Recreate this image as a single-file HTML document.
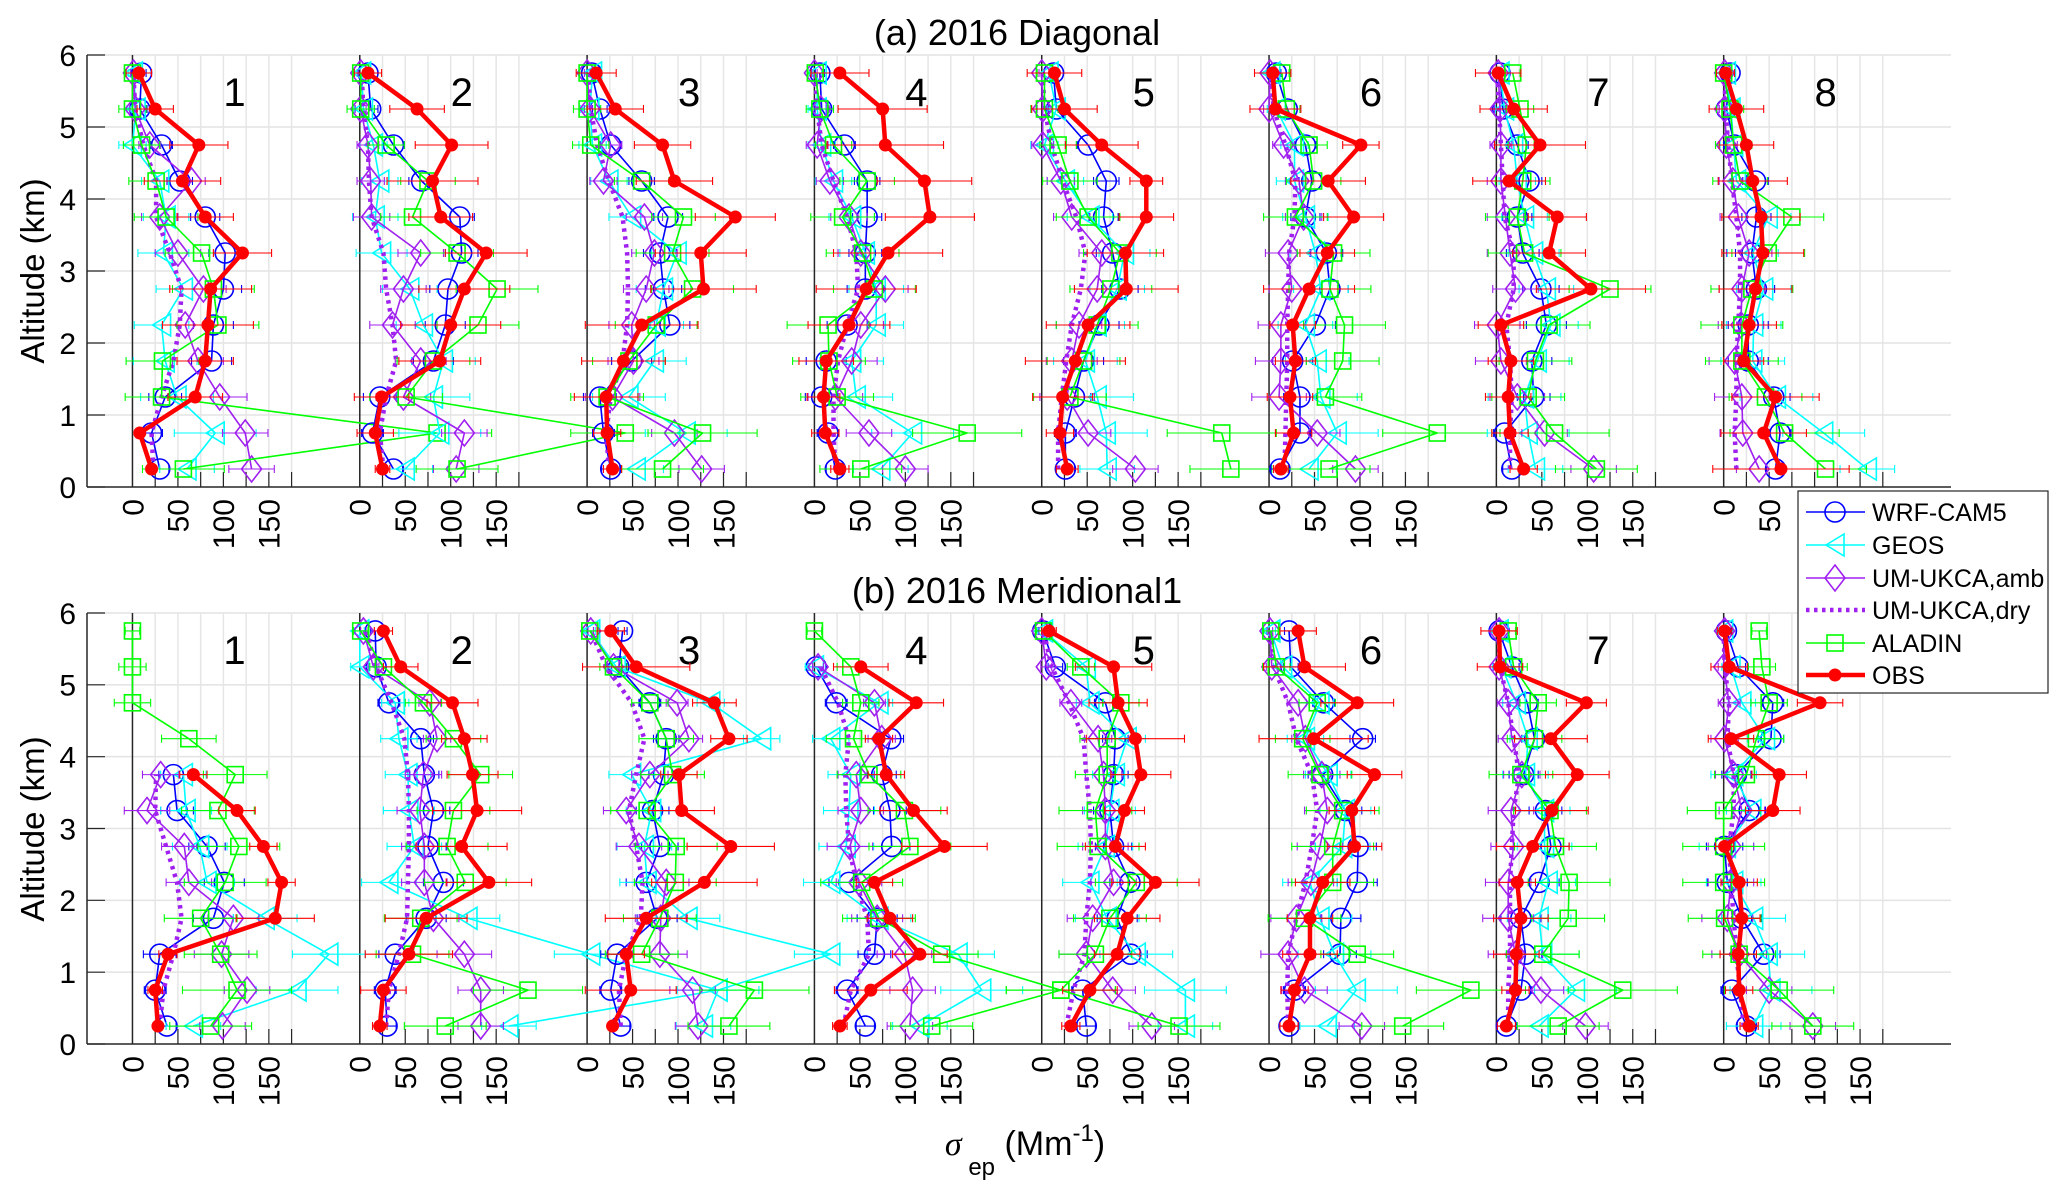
<!DOCTYPE html>
<html><head><meta charset="utf-8"><title>Extinction profiles</title>
<style>
html,body{margin:0;padding:0;background:#fff;}
svg{display:block;font-family:"Liberation Sans",Arial,sans-serif;}
</style></head>
<body>
<svg id="chart" xmlns="http://www.w3.org/2000/svg" width="2067" height="1197" viewBox="0 0 2067 1197">
<rect x="0" y="0" width="2067" height="1197" fill="#fff"/>
<defs>
<clipPath id="clipTop"><rect x="87" y="50" width="1864" height="440"/></clipPath>
<clipPath id="clipBot"><rect x="87" y="608" width="1864" height="440"/></clipPath>
</defs>
<text x="1017" y="45" font-size="36" text-anchor="middle" fill="#000">(a) 2016 Diagonal</text>
<text x="1017" y="603" font-size="36" text-anchor="middle" fill="#000">(b) 2016 Meridional1</text>
<text transform="translate(44,271) rotate(-90)" font-size="33" text-anchor="middle" fill="#000">Altitude (km)</text>
<text transform="translate(44,829) rotate(-90)" font-size="33" text-anchor="middle" fill="#000">Altitude (km)</text>
<text x="1025" y="1155" font-size="34" text-anchor="middle" fill="#000"><tspan font-style="italic" font-family="'Liberation Serif',serif">σ</tspan><tspan font-size="24" dy="20"> ep</tspan><tspan dy="-20"> (Mm</tspan><tspan font-size="24" dy="-14">-1</tspan><tspan dy="14">)</tspan></text>
<g id="layer"></g>
</svg>
<script>
// ---------- data (altitude levels low -> high) ----------
const levels = [0.25,0.75,1.25,1.75,2.25,2.75,3.25,3.75,4.25,4.75,5.25,5.75];
const panelLabels = ['1','2','3','4','5','6','7','8'];
const xTickLabels = [0,50,100,150];
const yTickLabels = [0,1,2,3,4,5,6];

const diagOBS = [
[21,8,69,80,83,86,121,80,55,73,25,7],
[25,17,24,88,100,115,139,89,80,101,63,9],
[28,22,21,40,60,128,125,163,96,83,31,10],
[28,12,10,13,38,57,81,127,121,78,75,28],
[28,20,23,37,51,93,92,115,115,66,25,14],
[13,27,23,29,26,44,64,93,65,101,7,4],
[30,15,13,16,5,104,58,67,14,48,19,2],
[63,44,57,22,28,35,43,41,32,25,14,2]];
const diagOBSerr = [
[5,5,30,31,50,45,32,31,42,32,20,14],
[8,20,30,45,55,50,45,35,50,40,30,15],
[10,15,35,46,62,58,50,44,42,31,31,22],
[10,15,18,30,45,55,60,49,52,64,49,32],
[12,15,33,55,46,57,42,30,18,40,36,30],
[8,20,25,22,25,50,30,33,41,20,28,20],
[15,20,25,25,25,60,40,32,40,50,37,25],
[75,47,48,22,30,40,45,43,38,30,30,10]];
const diagWRF = [
[30,21,36,87,89,100,102,80,52,32,8,10],
[37,14,22,81,94,97,112,110,68,37,12,9],
[26,18,14,49,91,84,80,89,60,26,14,5],
[23,15,8,13,36,56,56,58,58,33,8,6],
[26,26,36,46,63,86,78,68,71,51,16,13],
[12,34,34,26,51,67,63,40,47,40,20,8],
[17,9,41,39,55,49,29,23,36,23,7,4],
[57,62,55,27,27,36,31,36,35,12,3,7]];
const diagGEOS = [
[60,91,49,36,32,56,34,37,30,0,4,1],
[50,88,81,92,70,55,24,17,22,15,4,2],
[54,109,46,74,76,84,99,49,24,6,3,6],
[73,108,46,41,68,68,56,41,21,8,3,3],
[72,71,61,48,61,83,91,53,26,3,16,8],
[44,75,57,53,40,57,51,40,28,28,8,2],
[43,35,31,45,60,55,41,31,23,19,9,4],
[158,110,58,32,33,44,32,49,14,11,8,3]];
const diagUMamb = [
[131,124,96,72,58,78,50,30,65,19,3,1],
[106,115,48,67,36,48,67,13,12,9,1,1],
[126,96,28,51,49,65,74,63,18,26,3,0],
[100,60,23,41,51,78,51,38,17,3,7,0],
[103,51,28,33,41,61,66,33,21,1,1,0],
[95,53,11,13,13,25,21,38,33,16,0,1],
[107,53,23,5,1,21,15,10,5,5,4,2],
[39,21,20,12,19,20,28,16,10,3,1,1]];
const diagUMdry = [
[23,21,32,45,52,54,41,26,26,12,3,1],
[26,22,29,40,36,29,26,13,10,9,4,2],
[24,21,26,39,44,45,44,39,24,11,4,1],
[23,21,21,26,36,48,46,36,21,8,3,1],
[18,18,22,27,33,43,48,38,23,11,3,1],
[17,18,19,20,20,21,22,28,29,18,5,2],
[15,15,17,15,11,19,19,9,7,5,3,1],
[14,12,14,14,16,18,18,14,9,5,2,1]];
const diagALADIN = [
[56,335,32,33,94,89,76,37,26,10,0,0],
[107,292,51,81,130,151,107,58,75,29,1,1],
[83,127,22,46,76,116,94,106,60,4,0,0],
[51,168,25,16,15,66,53,31,58,21,6,1],
[208,198,31,46,61,76,86,51,31,18,3,3],
[66,185,62,81,83,67,71,29,49,44,19,14],
[110,64,35,43,58,125,31,23,29,33,26,18],
[112,67,46,20,20,31,49,75,18,11,7,0]];

const meriOBS = [
[28,25,39,157,164,144,115,67,null,null,null,null],
[22,26,54,73,142,112,129,124,115,102,45,26],
[28,48,43,65,129,158,104,101,156,140,54,26],
[28,62,116,83,66,143,109,79,71,112,51,null],
[32,53,83,94,125,81,91,109,103,84,79,8],
[22,28,45,45,59,94,91,116,49,97,39,32],
[11,21,22,27,23,40,61,89,60,99,4,3],
[28,17,16,20,17,1,54,61,8,106,6,1]];
const meriOBSerr = [
[5,8,10,43,15,15,20,15,0,0,0,0],
[8,25,48,45,47,50,49,28,25,28,19,10],
[5,50,20,45,58,48,36,20,20,24,59,15],
[8,40,30,25,20,47,37,20,15,30,30,0],
[10,30,25,36,48,33,22,33,54,32,42,8],
[10,15,30,25,30,30,25,30,60,40,45,20],
[10,15,25,30,20,40,40,35,40,22,25,20],
[10,15,20,20,20,10,30,30,25,25,20,8]];
const meriWRF = [
[38,25,30,89,101,82,49,45,null,null,null,null],
[30,28,39,73,92,75,81,71,67,32,18,17],
[37,26,33,77,65,80,72,84,87,69,35,39],
[56,36,66,69,38,85,83,74,84,24,2,null],
[49,45,98,83,97,79,75,79,81,70,15,1],
[22,28,78,79,97,98,84,59,103,60,24,22],
[11,27,32,27,47,60,54,30,42,34,17,3],
[25,9,44,20,4,1,28,14,52,54,16,3]];
const meriGEOS = [
[67,181,216,146,82,74,59,56,null,null,null,null],
[164,394,254,119,32,60,54,53,43,39,0,0],
[128,144,268,111,66,63,71,49,192,136,32,4],
[116,184,158,71,18,35,38,40,18,71,0,null],
[158,158,104,72,53,70,75,81,94,53,49,2],
[64,96,72,56,45,81,84,65,40,56,15,2],
[47,87,51,47,57,53,53,32,35,22,6,3],
[33,52,49,33,11,3,31,11,46,20,8,0]];
const meriUMamb = [
[99,126,98,111,62,57,16,31,null,null,null,null],
[133,133,115,81,71,71,66,70,85,77,15,4],
[122,116,80,81,87,57,43,69,112,99,29,4],
[105,108,99,69,49,39,51,46,74,66,4,null],
[121,78,49,56,79,70,70,68,62,32,5,0],
[102,39,21,30,46,56,64,58,40,32,3,1],
[98,49,21,13,13,19,16,28,17,13,3,3],
[98,50,17,4,8,8,20,11,1,6,0,1]];
const meriUMdry = [
[30,34,45,54,49,37,25,26,null,null,null,null],
[29,32,43,52,53,54,54,53,49,35,18,7],
[37,35,43,59,61,54,46,54,63,49,21,4],
[32,40,60,58,46,38,35,34,38,26,7,null],
[27,35,47,49,53,54,53,49,46,30,11,2],
[21,20,21,30,40,47,53,47,30,21,5,2],
[13,13,15,15,15,17,19,25,19,13,4,2],
[22,18,14,11,8,6,11,11,4,6,1,0]];
const meriALADIN = [
[86,115,97,75,102,117,94,113,62,0,0,0],
[94,185,58,67,116,96,103,133,103,70,26,1],
[156,184,60,80,97,98,66,94,87,69,29,3],
[129,271,140,71,52,105,99,60,43,51,40,0],
[151,21,59,75,104,62,59,72,72,87,43,2],
[147,222,97,39,70,70,81,56,37,53,8,2],
[68,139,51,79,80,65,59,27,42,46,19,13],
[98,61,17,1,0,0,0,25,36,50,42,39]];

const errWRF = [10,12,18,22,22,20,18,16,14,12,8,5];
const errGEOS = [30,45,40,35,30,30,28,25,20,15,10,5];
const errUMamb = [25,25,30,28,25,25,25,20,15,12,6,3];
const errALADIN = [45,60,40,40,45,45,40,35,30,20,15,8];

// ---------- layout / scales ----------
const NS = 'http://www.w3.org/2000/svg';
const X0 = 87, X1 = 1951, XMIN = -50, XMAX = 2000, PANEL_SPAN = 250;
const ROWS = [{top:55, bot:487, clip:'clipTop', key:'diagonal'}, {top:613, bot:1044, clip:'clipBot', key:'meridional'}];
function xAt(panel, v){ return X0 + (panel*PANEL_SPAN + v - XMIN) * (X1 - X0) / (XMAX - XMIN); }
function yAt(row, alt){ const r = ROWS[row]; return r.bot - alt * (r.bot - r.top) / 6; }

const layer = document.getElementById('layer');
function mk(tag, attrs, parent){
  const el = document.createElementNS(NS, tag);
  for (const k in attrs) el.setAttribute(k, attrs[k]);
  (parent || layer).appendChild(el);
  return el;
}

const seriesDefs = [
  {name:'wrf-cam5', label:'WRF-CAM5', color:'#0000ff', width:1.6, marker:'circle', err:'model'},
  {name:'geos', label:'GEOS', color:'#00ffff', width:1.6, marker:'triangle', err:'model'},
  {name:'um-ukca-amb', label:'UM-UKCA,amb', color:'#a020f0', width:1.6, marker:'diamond', err:'model'},
  {name:'um-ukca-dry', label:'UM-UKCA,dry', color:'#a020f0', width:4.5, marker:'none', dash:'3.5,4.5'},
  {name:'aladin', label:'ALADIN', color:'#00ff00', width:1.6, marker:'square', err:'model'},
  {name:'obs', label:'OBS', color:'#ff0000', width:4.5, marker:'dot', err:'obs'}
];
const rowData = [
  {wrf:diagWRF, geos:diagGEOS, amb:diagUMamb, dry:diagUMdry, aladin:diagALADIN, obs:diagOBS, obsErr:diagOBSerr},
  {wrf:meriWRF, geos:meriGEOS, amb:meriUMamb, dry:meriUMdry, aladin:meriALADIN, obs:meriOBS, obsErr:meriOBSerr}
];

function drawMarker(g, type, x, y, color){
  let el = null;
  if (type === 'circle') el = mk('circle', {cx:x, cy:y, r:10, fill:'none', stroke:color, 'stroke-width':1.6}, g);
  else if (type === 'triangle') el = mk('polygon', {points:(x-9)+','+y+' '+(x+9)+','+(y-11)+' '+(x+9)+','+(y+11), fill:'none', stroke:color, 'stroke-width':1.6}, g);
  else if (type === 'diamond') el = mk('polygon', {points:x+','+(y-13)+' '+(x+10)+','+y+' '+x+','+(y+13)+' '+(x-10)+','+y, fill:'none', stroke:color, 'stroke-width':1.6}, g);
  else if (type === 'square') el = mk('rect', {x:x-8, y:y-8, width:16, height:16, fill:'none', stroke:color, 'stroke-width':1.6}, g);
  else if (type === 'dot') el = mk('circle', {cx:x, cy:y, r:6, fill:color, stroke:color, 'stroke-width':1}, g);
  return el;
}

ROWS.forEach((R, ri) => {
  const axes = mk('g', {});
  
  
  // horizontal grid
  yTickLabels.forEach(t => {
    if (t === 0) return;
    const gl = mk('line', {x1:X0, x2:X1, y1:yAt(ri,t), y2:yAt(ri,t), stroke:'#e3e3e3', 'stroke-width':1.5}, axes);
    
    
  });
  for (let p = 0; p < 8; p++){
    for (let v = 25; v <= 175; v += 25){
      const vx = xAt(p, v);
      const vg = mk('line', {x1:vx, x2:vx, y1:R.top, y2:R.bot, stroke:'#e6e6e6', 'stroke-width':1.5}, axes);
      
      
      const tk = mk('line', {x1:vx, x2:vx, y1:R.bot, y2:R.bot-15, stroke:'#262626', 'stroke-width':1.2}, axes);
      
      
    }
    const zx = xAt(p, 0);
    const zl = mk('line', {x1:zx, x2:zx, y1:R.top, y2:R.bot, stroke:'#262626', 'stroke-width':1.5}, axes);
    
    
    xTickLabels.forEach(t => {
      const tx = xAt(p, t);
      const lab = mk('text', {transform:'translate('+tx+','+(R.bot+12)+') rotate(-90)', 'text-anchor':'end', dy:'0.36em', 'font-size':30, fill:'#000'}, axes);
      lab.textContent = String(t);
      
      
    });
    const pn = mk('text', {x:xAt(p, 0)+102, y:R.top+51, 'text-anchor':'middle', 'font-size':40, fill:'#000'}, axes);
    pn.textContent = panelLabels[p];
    
    
  }
  // axis lines
  const al = mk('line', {x1:X0, x2:X0, y1:R.top, y2:R.bot, stroke:'#262626', 'stroke-width':1.5}, axes);
  
  
  const bl = mk('line', {x1:X0, x2:X1, y1:R.bot, y2:R.bot, stroke:'#262626', 'stroke-width':1.5}, axes);
  
  
  yTickLabels.forEach(t => {
    const y = yAt(ri, t);
    const tk = mk('line', {x1:X0, x2:X0+18, y1:y, y2:y, stroke:'#262626', 'stroke-width':1.2}, axes);
    
    
    const lab = mk('text', {x:76, y:y, dy:'0.36em', 'text-anchor':'end', 'font-size':30, fill:'#000'}, axes);
    lab.textContent = String(t);
    
    
  });

  // series
  const plot = mk('g', {'clip-path':'url(#' + R.clip + ')'});
  
  
  const D = rowData[ri];
  const seriesArrays = [D.wrf, D.geos, D.amb, D.dry, D.aladin, D.obs];
  const modelErrs = [errWRF, errGEOS, errUMamb, null, errALADIN, null];
  for (let p = 0; p < 8; p++){
    seriesDefs.forEach((S, si) => {
      const vals = seriesArrays[si][p];
      const g = mk('g', {}, plot);
      
      
      // error bars
      const errs = S.err === 'obs' ? D.obsErr[p] : (S.err === 'model' ? modelErrs[si] : null);
      if (errs){
        vals.forEach((v, i) => {
          if (v === null || !errs[i]) return;
          const y = yAt(ri, levels[i]);
          const xa = xAt(p, v - errs[i]), xb = xAt(p, v + errs[i]);
          const eb = mk('path', {d:'M'+xa+','+y+'H'+xb+'M'+xa+','+(y-4)+'V'+(y+4)+'M'+xb+','+(y-4)+'V'+(y+4), stroke:S.color, 'stroke-width':1.1, fill:'none'}, g);
          
          
        });
      }
      // line
      let d = '', pen = false;
      vals.forEach((v, i) => {
        if (v === null){ pen = false; return; }
        d += (pen ? 'L' : 'M') + xAt(p, v) + ',' + yAt(ri, levels[i]);
        pen = true;
      });
      const attrs = {d:d, fill:'none', stroke:S.color, 'stroke-width':S.width, 'stroke-linejoin':'round'};
      if (S.dash) attrs['stroke-dasharray'] = S.dash;
      const ln = mk('path', attrs, g);
      
      
      vals.forEach((v, i) => {
        if (v === null) return;
        const m = drawMarker(g, S.marker, xAt(p, v), yAt(ri, levels[i]), S.color);
        if (m){
          
          
        }
      });
    });
  }
});

// legend
const lg = mk('g', {});


const lbox = mk('rect', {x:1798, y:491, width:250, height:202, fill:'#fff', stroke:'#262626', 'stroke-width':1.2}, lg);


const legendY = [512, 545, 578, 610, 643, 675];
seriesDefs.forEach((S, i) => {
  const e = mk('g', {}, lg);
  
  
  const y = legendY[i];
  const la = {x1:1806, x2:1865, y1:y, y2:y, stroke:S.color, 'stroke-width':S.width};
  if (S.dash) la['stroke-dasharray'] = S.dash;
  const l = mk('line', la, e);
  
  
  const m = drawMarker(e, S.marker, 1835, y, S.color);
  if (m){
    
    
  }
  const t = mk('text', {x:1872, y:y, dy:'0.36em', 'font-size':25, fill:'#000'}, e);
  t.textContent = S.label;
  
  
});
</script>
</body></html>
